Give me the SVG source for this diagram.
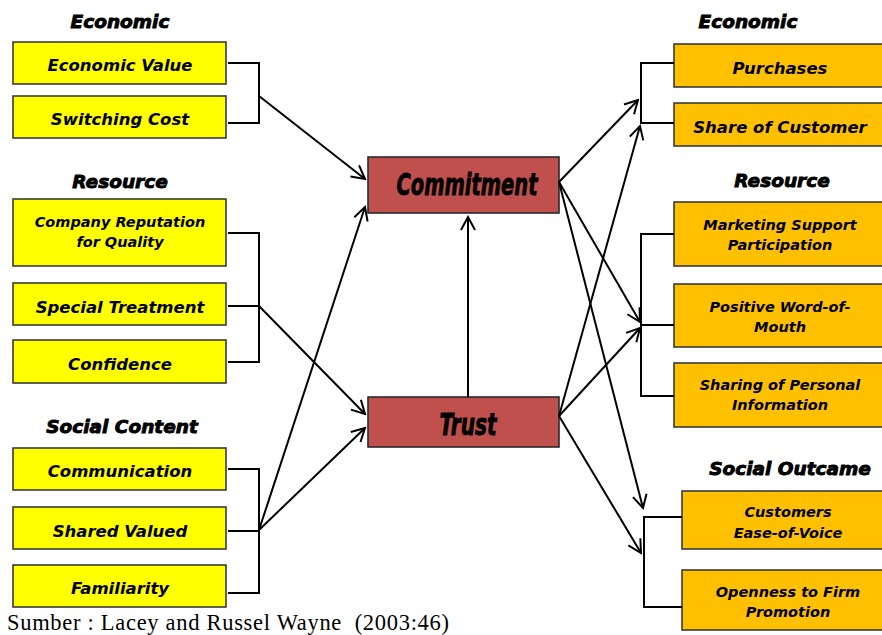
<svg xmlns="http://www.w3.org/2000/svg" width="882" height="635" viewBox="0 0 882 635">
  <style>
    .lbox { fill: #FFFF00; stroke: #3a3a3a; stroke-width: 1.6; }
    .rbox { fill: #FFC000; stroke: #3a3a3a; stroke-width: 1.6; }
    .core { fill: #C0504D; stroke: #2a2a2a; stroke-width: 1.6; }
    .lbl { font-family: "DejaVu Sans", "Liberation Sans", sans-serif; font-weight: bold; font-style: italic; font-size: 16.5px; fill: #000; text-anchor: middle; }
    .sm { font-size: 14.5px; }
    .ttl { font-family: "DejaVu Sans", "Liberation Sans", sans-serif; font-weight: 900; font-style: italic; font-size: 18.5px; fill: #000; stroke: #000; stroke-width: 0.9; text-anchor: middle; }
    .big { font-family: "DejaVu Sans Condensed", "DejaVu Sans", sans-serif; font-weight: bold; font-style: italic; font-size: 31px; fill: #000; stroke: #000; stroke-width: 0.8; text-anchor: middle; }
    .brk { fill: none; stroke: #000; stroke-width: 2; }
    .arr { fill: none; stroke: #000; stroke-width: 2; marker-end: url(#head); }
    .src { font-family: "Liberation Serif", "Times New Roman", serif; font-size: 22.5px; fill: #000; }
  </style>
  <defs>
    <marker id="head" viewBox="-15 -9 17 18" refX="0" refY="0" markerWidth="17" markerHeight="18" markerUnits="userSpaceOnUse" orient="auto">
      <path d="M-13,-7 L0,0 L-13,7" fill="none" stroke="#000" stroke-width="2"/>
    </marker>
  </defs>

  <rect width="882" height="635" fill="#fff"/>

  <!-- group titles -->
  <g id="titles">
    <text class="ttl" x="120" y="28">Economic</text>
    <text class="ttl" x="120" y="188">Resource</text>
    <text class="ttl" x="122" y="433">Social Content</text>
    <text class="ttl" x="748" y="28">Economic</text>
    <text class="ttl" x="782" y="187">Resource</text>
    <text class="ttl" x="790" y="475">Social Outcame</text>
  </g>

  <!-- antecedents (left) -->
  <g id="economic-value"><rect class="lbox" x="13" y="42" width="213" height="42"/><text class="lbl" x="120" y="71">Economic Value</text></g>
  <g id="switching-cost"><rect class="lbox" x="13" y="96" width="213" height="42"/><text class="lbl" x="120" y="125">Switching Cost</text></g>
  <g id="company-reputation"><rect class="lbox" x="13" y="199" width="213" height="67"/><text class="lbl sm" x="120" y="227">Company Reputation</text><text class="lbl sm" x="120" y="247">for Quality</text></g>
  <g id="special-treatment"><rect class="lbox" x="13" y="283" width="213" height="42"/><text class="lbl" x="120" y="313">Special Treatment</text></g>
  <g id="confidence"><rect class="lbox" x="13" y="340" width="213" height="43"/><text class="lbl" x="120" y="370">Confidence</text></g>
  <g id="communication"><rect class="lbox" x="13" y="448" width="213" height="42"/><text class="lbl" x="120" y="477">Communication</text></g>
  <g id="shared-valued"><rect class="lbox" x="13" y="507" width="213" height="42"/><text class="lbl" x="120" y="537">Shared Valued</text></g>
  <g id="familiarity"><rect class="lbox" x="13" y="565" width="213" height="42"/><text class="lbl" x="120" y="594">Familiarity</text></g>

  <!-- mediators -->
  <g id="commitment"><rect class="core" x="368" y="157" width="191" height="56"/><text class="big" x="467" y="195" textLength="141" lengthAdjust="spacingAndGlyphs">Commitment</text></g>
  <g id="trust"><rect class="core" x="368" y="397" width="191" height="50"/><text class="big" x="468" y="435" textLength="57" lengthAdjust="spacingAndGlyphs">Trust</text></g>

  <!-- outcomes (right) -->
  <g id="purchases"><rect class="rbox" x="674" y="44" width="220" height="43"/><text class="lbl" x="780" y="74">Purchases</text></g>
  <g id="share-of-customer"><rect class="rbox" x="674" y="103" width="220" height="43"/><text class="lbl" x="780" y="133">Share of Customer</text></g>
  <g id="marketing-support"><rect class="rbox" x="674" y="202" width="220" height="64"/><text class="lbl sm" x="780" y="230">Marketing Support</text><text class="lbl sm" x="780" y="250">Participation</text></g>
  <g id="positive-wom"><rect class="rbox" x="674" y="284" width="220" height="63"/><text class="lbl sm" x="780" y="312">Positive Word-of-</text><text class="lbl sm" x="780" y="332">Mouth</text></g>
  <g id="sharing-info"><rect class="rbox" x="674" y="363" width="220" height="64"/><text class="lbl sm" x="780" y="390">Sharing of Personal</text><text class="lbl sm" x="780" y="410">Information</text></g>
  <g id="ease-of-voice"><rect class="rbox" x="682" y="491" width="212" height="58"/><text class="lbl sm" x="788" y="517">Customers</text><text class="lbl sm" x="788" y="538">Ease-of-Voice</text></g>
  <g id="openness"><rect class="rbox" x="682" y="570" width="212" height="60"/><text class="lbl sm" x="788" y="597">Openness to Firm</text><text class="lbl sm" x="788" y="617">Promotion</text></g>

  <!-- connectors -->
  <g id="connectors">
    <!-- brackets joining each group -->
    <path class="brk" d="M228,63 H259 V123 H228"/>
    <path class="brk" d="M228,233 H259 V362 H228 M228,306 H259"/>
    <path class="brk" d="M228,469 H259 V593 H228 M228,531 H259"/>
    <path class="brk" d="M674,63 H641 V123 H674"/>
    <path class="brk" d="M674,234 H641 V396 H674 M674,325 H641"/>
    <path class="brk" d="M682,517 H644 V607 H682"/>

    <!-- antecedents to mediators -->
    <line class="arr" x1="259" y1="96" x2="365" y2="179"/>
    <line class="arr" x1="259" y1="306" x2="365" y2="414"/>
    <line class="arr" x1="259" y1="530" x2="365" y2="428"/>
    <line class="arr" x1="259" y1="530" x2="365" y2="207"/>

    <!-- trust to commitment -->
    <line class="arr" x1="468" y1="397" x2="468" y2="217"/>

    <!-- mediators to outcomes -->
    <line class="arr" x1="559" y1="182" x2="638" y2="100"/>
    <line class="arr" x1="559" y1="182" x2="640" y2="322"/>
    <line class="arr" x1="559" y1="182" x2="643" y2="508"/>
    <line class="arr" x1="559" y1="416" x2="640" y2="126"/>
    <line class="arr" x1="559" y1="416" x2="640" y2="328"/>
    <line class="arr" x1="559" y1="416" x2="641" y2="553"/>
  </g>

  <text class="src" x="7" y="630" xml:space="preserve" textLength="442" lengthAdjust="spacing">Sumber : Lacey and Russel Wayne  (2003:46)</text>
</svg>
